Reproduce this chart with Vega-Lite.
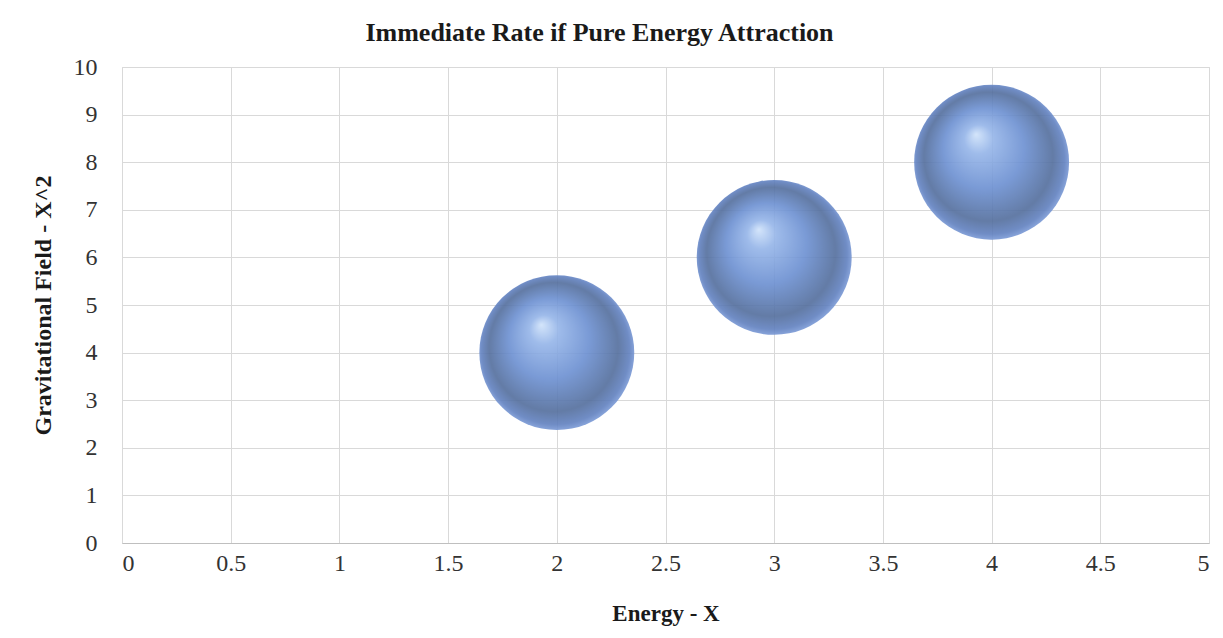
{
  "$schema": "https://vega.github.io/schema/vega-lite/v6.json",
  "autosize": "none",
  "width": 1087,
  "height": 476,
  "padding": {"left": 122, "top": 67, "right": 14, "bottom": 95},
  "background": "white",
  "title": {
    "text": "Immediate Rate if Pure Energy Attraction",
    "font": "Liberation Serif",
    "fontSize": 26,
    "fontWeight": "bold",
    "color": "#1a1a1a",
    "anchor": "middle",
    "offset": 9,
    "dx": -66
  },
  "data": {"values": [
    {"energy": 2, "field": 4},
    {"energy": 3, "field": 6},
    {"energy": 4, "field": 8}
  ]},
  "mark": {
    "type": "point",
    "filled": true,
    "shape": "circle",
    "size": 24000,
    "opacity": 0.9,
    "color": {
      "gradient": "radial",
      "x1": 0.4, "y1": 0.32, "r1": 0,
      "x2": 0.5, "y2": 0.5, "r2": 0.52,
      "stops": [
        {"offset": 0, "color": "#cfe2fa"},
        {"offset": 0.18, "color": "#94b4e8"},
        {"offset": 0.5, "color": "#6b8fd1"},
        {"offset": 0.8, "color": "#526d9c"},
        {"offset": 0.92, "color": "#6080bf"},
        {"offset": 1, "color": "#88a7e2"}
      ]
    }
  },
  "encoding": {
    "x": {
      "field": "energy", "type": "quantitative",
      "scale": {"domain": [0, 5], "nice": false, "zero": true},
      "axis": {
        "title": "Energy - X",
        "values": [0, 0.5, 1, 1.5, 2, 2.5, 3, 3.5, 4, 4.5, 5],
        "format": "~g",
        "labelFont": "Liberation Serif", "labelFontSize": 24, "labelColor": "#333",
        "labelPadding": 8, "ticks": false,
        "domainColor": "#bfbfbf",
        "gridColor": "#d9d9d9",
        "titleFont": "Liberation Serif", "titleFontSize": 23, "titleFontWeight": "bold",
        "titleColor": "#1a1a1a", "titlePadding": 27
      }
    },
    "y": {
      "field": "field", "type": "quantitative",
      "scale": {"domain": [0, 10], "nice": false},
      "axis": {
        "title": "Gravitational Field - X^2",
        "values": [0, 1, 2, 3, 4, 5, 6, 7, 8, 9, 10],
        "labelFont": "Liberation Serif", "labelFontSize": 24, "labelColor": "#333",
        "labelPadding": 25, "ticks": false,
        "domain": false,
        "gridColor": "#d9d9d9",
        "titleFont": "Liberation Serif", "titleFontSize": 24, "titleFontWeight": "bold",
        "titleColor": "#1a1a1a", "titlePadding": 18
      }
    }
  },
  "config": {
    "view": {"stroke": "#d9d9d9"}
  }
}
